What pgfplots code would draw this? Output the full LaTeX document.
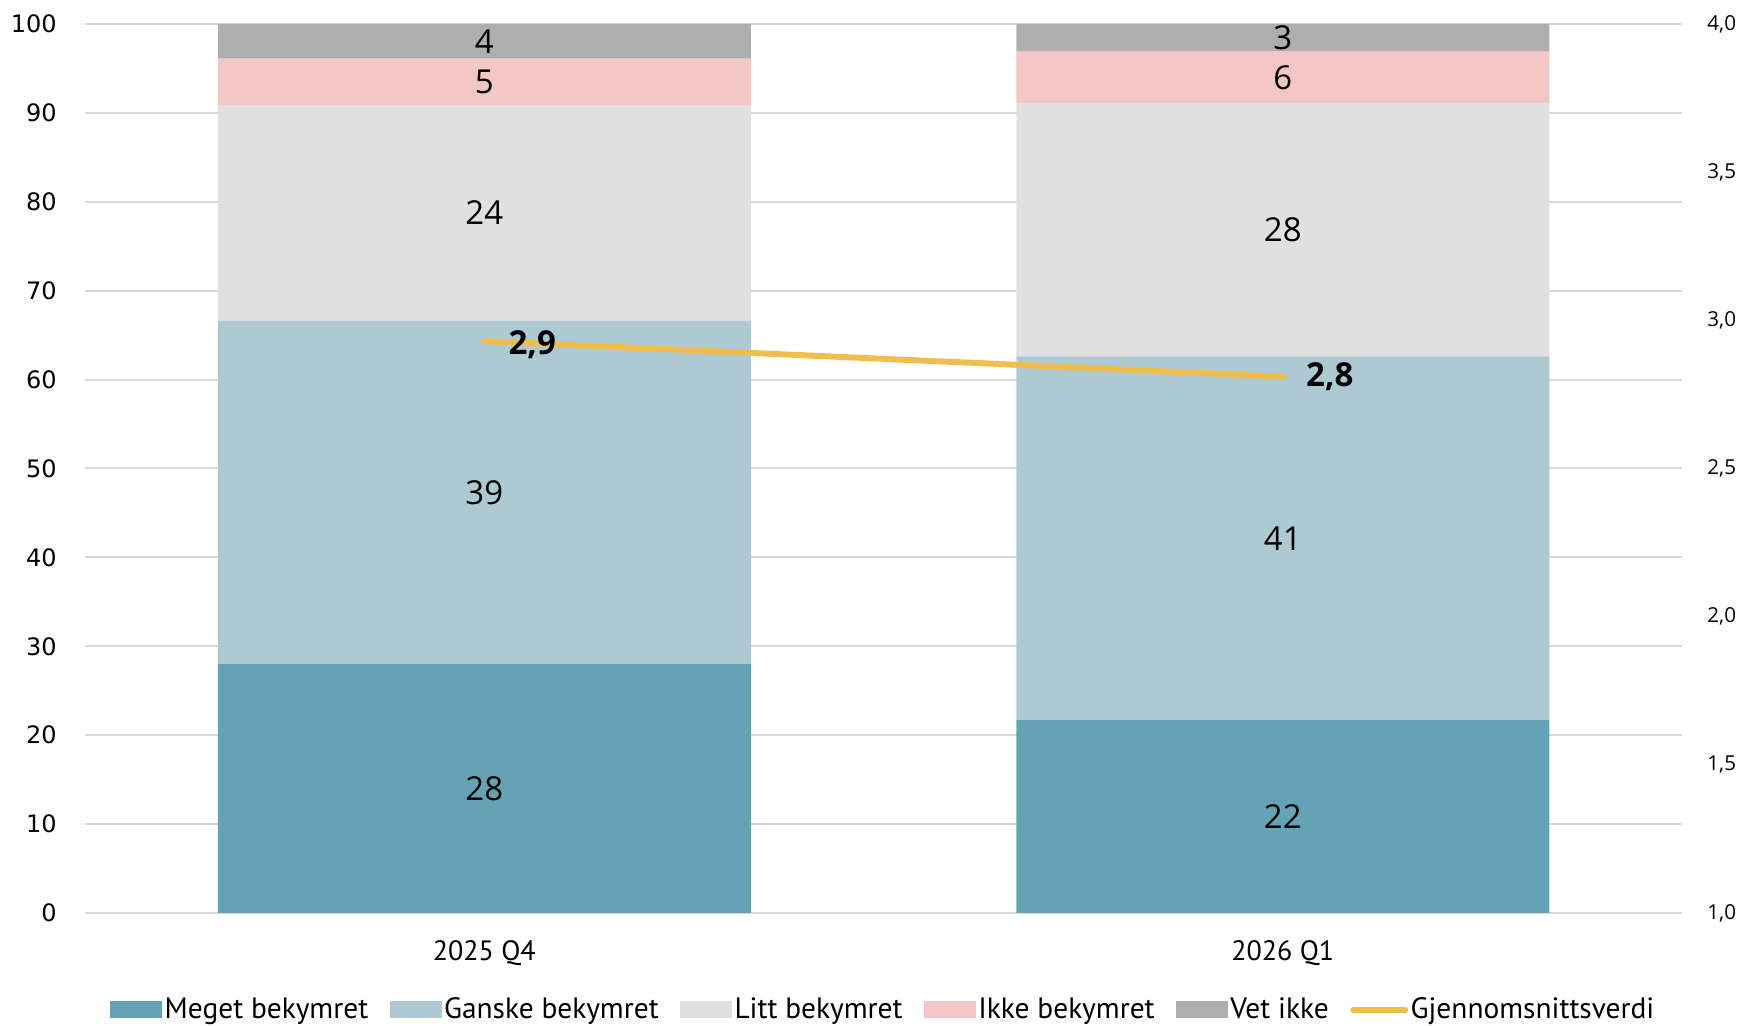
\documentclass[border=0pt]{standalone}
\usepackage{pgfplots}
\pgfplotsset{compat=1.18}
\usepackage{fontspec}
\setmainfont{PT Sans}
\newfontfamily\numfont{DejaVu Sans}
\newfontfamily\valfont{Open Sans}
\definecolor{cMeget}{HTML}{63A3B4}
\definecolor{cGanske}{HTML}{ADCAD3}
\definecolor{cLitt}{HTML}{E0E0E0}
\definecolor{cIkke}{HTML}{F4C6C6}
\definecolor{cVet}{HTML}{AEAEAE}
\definecolor{cLine}{HTML}{F0BE4E}
\definecolor{cGrid}{HTML}{D9D9D9}
\pgfplotsset{
  boxlegend/.style={legend image code/.code={\fill[##1, draw=none] (0pt,-4.25pt) rectangle (26pt,4.25pt);}},
  linelegend/.style={legend image code/.code={\draw[##1] (0pt,0pt) -- (26pt,0pt);}},
}
\tikzset{vlab/.style={font=\valfont\fontsize{16.5}{16.5}\selectfont, inner sep=0pt}}
\begin{document}
\begin{tikzpicture}
\useasboundingbox (-42.5pt,-56.5pt) rectangle (829.5pt,456.5pt);
\begin{axis}[name=main, at={(0,0)}, anchor=south west,
  width=798.5pt, height=444.5pt, scale only axis,
  xmin=-0.5, xmax=1.5, ymin=0, ymax=100,
  ybar stacked, bar width=266.5pt,
  xtick={0,1}, xticklabels={2025 Q4, 2026 Q1},
  ytick={0,10,20,30,40,50,60,70,80,90,100},
  major tick length=0pt,
  axis line style={draw=none},
  ymajorgrids, grid style={cGrid, line width=1pt},
  xticklabel style={font=\fontsize{14}{14}\selectfont, anchor=base, inner sep=0pt, yshift=-24pt},
  yticklabel style={font=\numfont\fontsize{12}{12}\selectfont, anchor=east, inner sep=0pt, xshift=-14pt},
  /pgf/number format/assume math mode=true,
  clip=false,
]
\addplot[fill=cMeget, draw=none] coordinates {(0,28.0) (1,21.7)};
\addplot[fill=cGanske, draw=none] coordinates {(0,38.6) (1,40.9)};
\addplot[fill=cLitt, draw=none] coordinates {(0,24.3) (1,28.5)};
\addplot[fill=cIkke, draw=none] coordinates {(0,5.2) (1,5.8)};
\addplot[fill=cVet, draw=none] coordinates {(0,3.9) (1,3.1)};
\end{axis}
\begin{axis}[at={(main.south west)}, anchor=south west,
  width=798.5pt, height=444.5pt, scale only axis,
  xmin=-0.5, xmax=1.5, ymin=1, ymax=4,
  ytick={1,1.5,2,2.5,3,3.5,4},
  axis x line=none, axis y line*=right,
  axis line style={draw=none}, major tick length=0pt,
  yticklabel style={font=\valfont\fontsize{10.3}{10.3}\selectfont, anchor=west, inner sep=0pt, xshift=12.5pt,
    /pgf/number format/.cd, fixed, fixed zerofill, precision=1, use comma},
  /pgf/number format/assume math mode=true,
  legend style={at={(0.5,-0.109)}, anchor=center, draw=none, legend columns=-1,
    font=\fontsize{14.7}{14.7}\selectfont, inner sep=0pt,
    nodes={inner xsep=1.2pt, inner ysep=0pt},
    /tikz/every even column/.append style={column sep=9.5pt}},
  clip=false,
]
\addlegendimage{boxlegend, fill=cMeget, draw=none}
\addlegendentry{Meget bekymret}
\addlegendimage{boxlegend, fill=cGanske, draw=none}
\addlegendentry{Ganske bekymret}
\addlegendimage{boxlegend, fill=cLitt, draw=none}
\addlegendentry{Litt bekymret}
\addlegendimage{boxlegend, fill=cIkke, draw=none}
\addlegendentry{Ikke bekymret}
\addlegendimage{boxlegend, fill=cVet, draw=none}
\addlegendentry{Vet ikke}
\addplot[cLine, line width=3pt, line cap=round, linelegend] coordinates {(0,2.93) (1,2.81)};
\addlegendentry{Gjennomsnittsverdi}
% segment labels (left-axis value v drawn at 1+0.03v on this axis)
\node[vlab] at (axis cs:0,1.42) {28};
\node[vlab] at (axis cs:0,2.419) {39};
\node[vlab] at (axis cs:0,3.3625) {24};
\node[vlab] at (axis cs:0,3.805) {5};
\node[vlab] at (axis cs:0,3.9415) {4};
\node[vlab] at (axis cs:1,1.3255) {22};
\node[vlab] at (axis cs:1,2.2645) {41};
\node[vlab] at (axis cs:1,3.3055) {28};
\node[vlab] at (axis cs:1,3.82) {6};
\node[vlab] at (axis cs:1,3.9535) {3};
\node[anchor=west, inner sep=0pt, xshift=12pt, yshift=-2pt, font=\valfont\bfseries\fontsize{16.5}{16.5}\selectfont] at (axis cs:0,2.93) {2,9};
\node[anchor=west, inner sep=0pt, xshift=11.5pt, font=\valfont\bfseries\fontsize{16.5}{16.5}\selectfont] at (axis cs:1,2.81) {2,8};
\end{axis}
\end{tikzpicture}
\end{document}
